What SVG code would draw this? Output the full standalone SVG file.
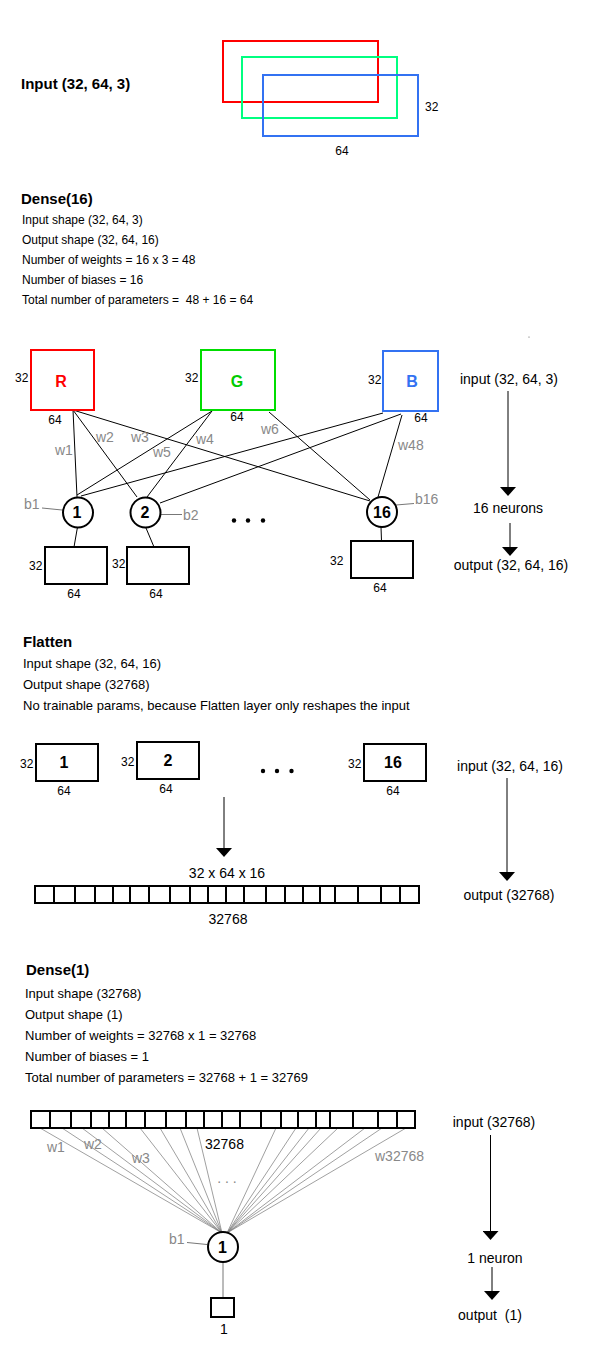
<svg xmlns="http://www.w3.org/2000/svg" width="594" height="1368" viewBox="0 0 594 1368">
<style>
text{font-family:"Liberation Sans",Arial,sans-serif;fill:#000}
.pre{white-space:pre}
.tb{font-size:15px;font-weight:bold}
.t12{font-size:12px}
.t13{font-size:13px}
.t14{font-size:14px}
.gl{fill:#888;font-size:14px}
.mid{text-anchor:middle}
.box{fill:#fff;stroke:#000;stroke-width:2}
.neu{fill:#fff;stroke:#000;stroke-width:2}
.nl{font-size:16px;font-weight:bold;text-anchor:middle}
.wire{stroke:#000;stroke-width:1;fill:none}
.bias{stroke:#777;stroke-width:1;fill:none}
.fan{stroke:#777;stroke-width:0.7;fill:none}
.arr{stroke:#000;stroke-width:1;fill:none}
.div{stroke:#000;stroke-width:2}
</style>
<defs>
<marker id="ah" markerUnits="userSpaceOnUse" markerWidth="9" markerHeight="16" viewBox="0 0 9 16" refX="0" refY="8" orient="auto">
<path d="M0,0 L9,8 L0,16 z" fill="#000"/>
</marker>
</defs>
<rect width="594" height="1368" fill="#fff"/>

<!-- Input section -->
<g id="input-title"><text class="tb" x="21" y="89">Input (32, 64, 3)</text></g>
<g id="input-tensor">
<rect x="223" y="41" width="155" height="61" fill="none" stroke="#ff0000" stroke-width="2"/>
<rect x="242" y="57" width="155" height="61" fill="none" stroke="#00ff80" stroke-width="2"/>
<rect x="263" y="75" width="155" height="61" fill="none" stroke="#3372f2" stroke-width="2"/>
<text class="t12" x="425" y="111">32</text>
<text class="t12 mid" x="342" y="155">64</text>
</g>

<!-- Dense(16) description -->
<g id="dense16-text">
<text class="tb" x="21" y="204">Dense(16)</text>
<text class="t12" x="22" y="224">Input shape (32, 64, 3)</text>
<text class="t12" x="22" y="244">Output shape (32, 64, 16)</text>
<text class="t12" x="22" y="264">Number of weights = 16 x 3 = 48</text>
<text class="t12" x="22" y="284">Number of biases = 16</text>
<text class="t12 pre" xml:space="preserve" x="22" y="304">Total number of parameters =  48 + 16 = 64</text>
</g>
<circle cx="529" cy="337" r="0.6" fill="#555"/>

<!-- connectors dense16 -->
<g id="connectors-dense16">
<line class="wire" x1="73" y1="410" x2="77" y2="497"/>
<line class="wire" x1="73" y1="410" x2="137" y2="497"/>
<line class="wire" x1="73" y1="410" x2="370" y2="501"/>
<line class="wire" x1="212" y1="411" x2="77" y2="495"/>
<line class="wire" x1="212" y1="411" x2="147" y2="497"/>
<line class="wire" x1="269" y1="412" x2="370" y2="500"/>
<line class="wire" x1="383" y1="413" x2="81" y2="496"/>
<line class="wire" x1="401" y1="414" x2="160" y2="503"/>
<line class="wire" x1="402" y1="415" x2="378" y2="497"/>
<line class="wire" x1="77.5" y1="527" x2="74" y2="547"/>
<line class="wire" x1="146" y1="528" x2="154" y2="547"/>
<line class="wire" x1="381" y1="527" x2="381.5" y2="541"/>
<line class="bias" x1="42" y1="508" x2="62" y2="510"/>
<line class="bias" x1="160" y1="514.5" x2="182" y2="514.5"/>
<line class="bias" x1="396" y1="505" x2="414" y2="503.5"/>
<text class="gl" x="55" y="455">w1</text>
<text class="gl" x="96" y="442">w2</text>
<text class="gl" x="131" y="442">w3</text>
<text class="gl" x="196" y="444">w4</text>
<text class="gl" x="153" y="457">w5</text>
<text class="gl" x="261" y="434">w6</text>
<text class="gl" x="398" y="450">w48</text>
<text class="gl" x="24" y="509">b1</text>
<text class="gl" x="183" y="520">b2</text>
<text class="gl" x="415" y="504">b16</text>
</g>

<g id="channel-R">
<rect x="31" y="350" width="63" height="60" fill="#fff" stroke="#ff0000" stroke-width="2"/>
<text x="61" y="386.5" class="mid" style="font-size:16px;font-weight:bold;fill:#ff0000">R</text>
<text class="t12" x="15" y="382">32</text>
<text class="t12 mid" x="55" y="424">64</text>
</g>
<g id="channel-G">
<rect x="201" y="350" width="74" height="60" fill="#fff" stroke="#00dd00" stroke-width="2"/>
<text x="237" y="386.5" class="mid" style="font-size:16px;font-weight:bold;fill:#00cc00">G</text>
<text class="t12" x="185" y="382">32</text>
<text class="t12 mid" x="237" y="421">64</text>
</g>
<g id="channel-B">
<rect x="383" y="351" width="55" height="60" fill="#fff" stroke="#3372f2" stroke-width="2"/>
<text x="412" y="386.5" class="mid" style="font-size:16px;font-weight:bold;fill:#3372f2">B</text>
<text class="t12" x="368" y="384">32</text>
<text class="t12 mid" x="421" y="422">64</text>
</g>

<g id="neuron-1"><circle class="neu" cx="78" cy="512.5" r="15"/><text class="nl" x="77" y="518">1</text></g>
<g id="neuron-2"><circle class="neu" cx="145.5" cy="512.5" r="15"/><text class="nl" x="145" y="518">2</text></g>
<g id="neuron-dots"><circle cx="234" cy="520.5" r="2.2"/><circle cx="248" cy="520.5" r="2.2"/><circle cx="263" cy="520.5" r="2.2"/></g>
<g id="neuron-16"><circle class="neu" cx="382" cy="512" r="15"/><text class="nl" x="382" y="517.5">16</text></g>

<g id="out-map-1"><rect class="box" x="45" y="547" width="62" height="37"/><text class="t12" x="29" y="570">32</text><text class="t12 mid" x="74" y="598">64</text></g>
<g id="out-map-2"><rect class="box" x="127" y="547" width="62" height="37"/><text class="t12" x="112" y="568">32</text><text class="t12 mid" x="156" y="598">64</text></g>
<g id="out-map-16"><rect class="box" x="351" y="541" width="62" height="37"/><text class="t12" x="330" y="565">32</text><text class="t12 mid" x="380" y="592">64</text></g>

<g id="flow-dense16">
<text class="t14 mid" x="509" y="383.5">input (32, 64, 3)</text>
<line class="arr" x1="508" y1="391" x2="508" y2="487" marker-end="url(#ah)"/>
<text class="t14 mid" x="508" y="513">16 neurons</text>
<line class="arr" x1="510" y1="523" x2="510" y2="547" marker-end="url(#ah)"/>
<text class="t14 mid" x="511" y="570">output (32, 64, 16)</text>
</g>

<!-- Flatten -->
<g id="flatten-text">
<text class="tb" x="23" y="647">Flatten</text>
<text class="t13" x="23" y="668">Input shape (32, 64, 16)</text>
<text class="t13" x="23" y="689">Output shape (32768)</text>
<text class="t13" x="23" y="710">No trainable params, because Flatten layer only reshapes the input</text>
</g>
<g id="flat-map-1"><rect class="box" x="36" y="744" width="62" height="37"/><text class="nl" x="64" y="767.5">1</text><text class="t12" x="20" y="768">32</text><text class="t12 mid" x="64" y="795">64</text></g>
<g id="flat-map-2"><rect class="box" x="137" y="742" width="62" height="37"/><text class="nl" x="168" y="766">2</text><text class="t12" x="121" y="766">32</text><text class="t12 mid" x="166" y="793">64</text></g>
<g id="flat-dots"><circle cx="263" cy="771" r="2.2"/><circle cx="277" cy="771" r="2.2"/><circle cx="291.5" cy="771" r="2.2"/></g>
<g id="flat-map-16"><rect class="box" x="364" y="744" width="62" height="37"/><text class="nl" x="393" y="767.5">16</text><text class="t12" x="348" y="768">32</text><text class="t12 mid" x="393" y="795">64</text></g>
<g id="flatten-arrow"><line class="arr" x1="224" y1="797" x2="224" y2="848" marker-end="url(#ah)"/></g>
<g id="flat-vector">
<text class="t14 mid" x="227" y="878">32 x 64 x 16</text>
<rect x="35" y="886" width="384" height="17" fill="#fff" stroke="#000" stroke-width="2"/>
<path class="div" d="M54,886v17M75,886v17M95,886v17M113,886v17M130,886v17M149,886v17M170,886v17M190,886v17M208,886v17M226,886v17M244,886v17M266,886v17M285,886v17M303,886v17M320,886v17M335,886v17M358,886v17M381,886v17M400,886v17"/>
<text class="t14 mid" x="228" y="924">32768</text>
</g>
<g id="flow-flatten">
<text class="t14 mid" x="510" y="771">input (32, 64, 16)</text>
<line class="arr" x1="507" y1="778" x2="507" y2="872" marker-end="url(#ah)"/>
<text class="t14 mid" x="509" y="900">output (32768)</text>
</g>

<!-- Dense(1) -->
<g id="dense1-text">
<text class="tb" x="26" y="975">Dense(1)</text>
<text class="t13" x="25" y="998">Input shape (32768)</text>
<text class="t13" x="25" y="1019">Output shape (1)</text>
<text class="t13" x="25" y="1040">Number of weights = 32768 x 1 = 32768</text>
<text class="t13" x="25" y="1061">Number of biases = 1</text>
<text class="t13" x="25" y="1082">Total number of parameters = 32768 + 1 = 32769</text>
</g>

<g id="connectors-dense1">
<path class="fan" d="M40,1128L222,1233M62,1128L222,1233M82,1128L222,1233M102,1128L222,1233M140,1128L222,1233M160,1128L222,1233M180,1128L222,1233M197,1128L222,1233"/>
<path class="fan" d="M276,1128L227,1233M296,1128L227,1233M309,1128L227,1233M321,1128L227,1233M338,1128L227,1233M365,1128L227,1233M382,1128L227,1233M406,1128L227,1233"/>
<line class="bias" x1="187" y1="1242.5" x2="207" y2="1244.5"/>
<line class="bias" x1="223" y1="1263" x2="223" y2="1298"/>
<text class="gl" x="47" y="1152">w1</text>
<text class="gl" x="84" y="1149">w2</text>
<text class="gl" x="132" y="1163">w3</text>
<text class="gl" x="375" y="1161">w32768</text>
<text class="gl mid" x="227" y="1183">. . .</text>
<text class="gl" x="169" y="1244">b1</text>
</g>

<g id="dense1-input-vector">
<rect x="31" y="1111" width="384" height="17" fill="#fff" stroke="#000" stroke-width="2"/>
<path class="div" d="M50,1111v17M71,1111v17M91,1111v17M109,1111v17M126,1111v17M145,1111v17M166,1111v17M186,1111v17M204,1111v17M222,1111v17M240,1111v17M261,1111v17M281,1111v17M298,1111v17M316,1111v17M330,1111v17M353,1111v17M378,1111v17M397,1111v17"/>
<text class="t14" x="205" y="1149">32768</text>
</g>
<g id="dense1-neuron"><circle class="neu" cx="223" cy="1247" r="15"/><text class="nl" x="222.5" y="1253">1</text></g>
<g id="dense1-output"><rect class="box" x="211" y="1298" width="23" height="19"/><text class="t14 mid" x="224" y="1334">1</text></g>

<g id="flow-dense1">
<text class="t14 mid" x="494" y="1127">input (32768)</text>
<line class="arr" x1="490.5" y1="1135" x2="490.5" y2="1231" marker-end="url(#ah)"/>
<text class="t14 mid" x="495" y="1263">1 neuron</text>
<line class="arr" x1="492" y1="1267" x2="492" y2="1291" marker-end="url(#ah)"/>
<text class="t14 mid pre" xml:space="preserve" x="490" y="1320">output  (1)</text>
</g>
</svg>
